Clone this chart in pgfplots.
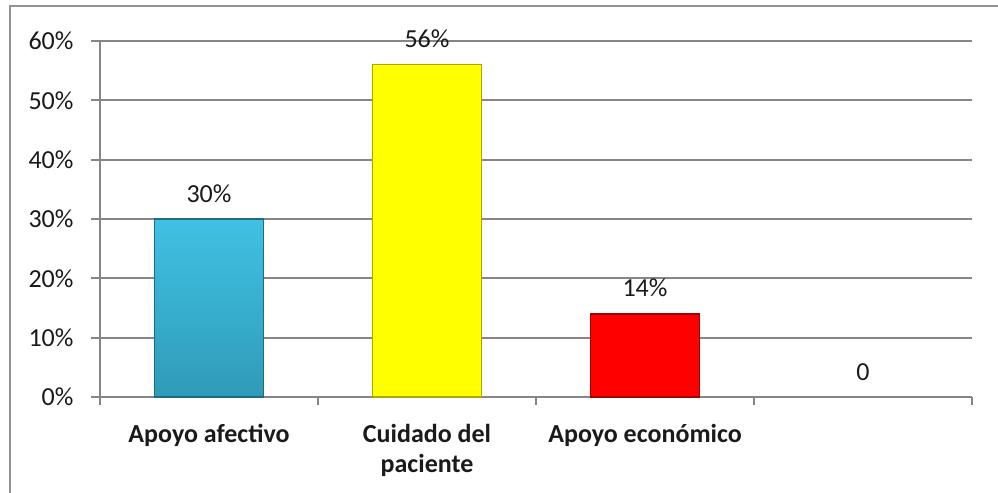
\documentclass[border=0pt]{standalone}
\usepackage{fontspec}
\setmainfont{Carlito}
\usepackage{pgfplots}
\pgfplotsset{compat=1.18}
\definecolor{axgray}{HTML}{868686}
\definecolor{blueTop}{HTML}{40C1E3}
\definecolor{blueBot}{HTML}{2F9BB8}
\definecolor{blueEdge}{HTML}{226A80}
\definecolor{yel}{HTML}{FFFF00}
\definecolor{yelEdge}{HTML}{A8A800}
\definecolor{redf}{HTML}{FF0000}
\definecolor{redEdge}{HTML}{A00000}
\definecolor{txt}{HTML}{1A1A1A}
\begin{document}
\begin{tikzpicture}[font=\fontsize{26bp}{31bp}\selectfont]
\useasboundingbox (0,0) rectangle (998bp,493bp);
\draw[axgray!90, line width=2.2bp] (10bp,0) -- (10bp,487bp) -- (998bp,487bp);
\begin{axis}[
  at={(100bp,96bp)}, anchor=south west, scale only axis,
  width=872bp, height=356bp,
  xmin=-0.5, xmax=3.5, ymin=0, ymax=60,
  axis x line*=bottom, axis y line*=left,
  axis line style={axgray, line width=2.2bp, -},
  ytick={0,10,...,60},
  yticklabels={0\%,10\%,20\%,30\%,40\%,50\%,60\%},
  ymajorgrids, grid style={axgray, line width=2.2bp},
  tick align=outside, major tick length=9bp, minor tick length=8bp,
  tick style={axgray, line width=2.2bp},
  xtick={0,1,2,3},
  xticklabels={Apoyo afectivo, {Cuidado del\\paciente}, Apoyo económico, {}},
  major x tick style={draw=none},
  minor xtick={-0.5,0.5,1.5,2.5,3.5},
  minor x tick style={axgray, line width=2.2bp},
  xticklabel style={align=center, font=\fontsize{26bp}{30bp}\selectfont\bfseries, text=txt, anchor=north, yshift=-15bp},
  yticklabel style={text=txt, font=\fontsize{26bp}{31bp}\selectfont, xshift=-14bp},
  ybar, bar width=109bp, bar shift=0pt,
  nodes near coords, point meta=explicit symbolic,
  nodes near coords style={anchor=base, yshift=17bp, text=txt, font=\fontsize{26bp}{31bp}\selectfont},
  clip=false,
]
\addplot[draw=blueEdge, top color=blueTop, bottom color=blueBot, line width=1.2bp] coordinates {(0,30) [30\%]};
\addplot[draw=yelEdge, fill=yel, line width=1.2bp] coordinates {(1,56) [56\%]};
\addplot[draw=redEdge, fill=redf, line width=1.2bp] coordinates {(2,14) [14\%]};
\addplot[draw=none, fill=none] coordinates {(3,0) [0]};
\end{axis}
\end{tikzpicture}
\end{document}
